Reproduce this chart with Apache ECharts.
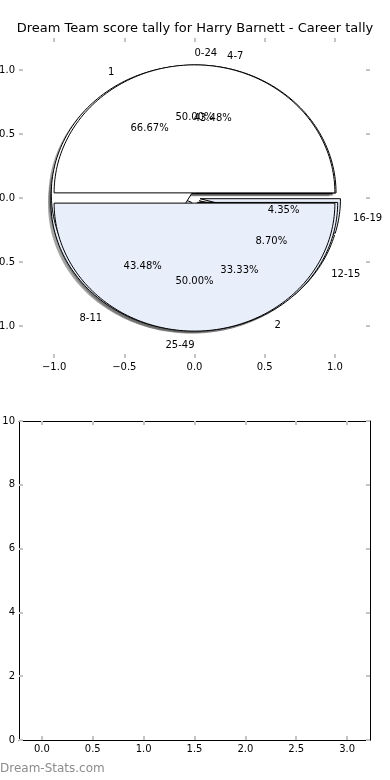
<!DOCTYPE html>
<html><head><meta charset="utf-8">
<script src="https://cdn.jsdelivr.net/npm/echarts@6/dist/echarts.min.js"></script>
<style>html,body{margin:0;padding:0;background:#fff}#c{width:390px;height:780px}</style>
</head><body><div id="c"></div>
<script>
// ---- data ----
const chartTitle = 'Dream Team score tally for Harry Barnett - Career tally';
const pieALabels = ['1', '2'];
const pieAValues = [2, 1];
const pieBLabels = ['0-24', '25-49'];
const pieBValues = [1, 1];
const pieCLabels = ['4-7', '8-11', '12-15', '16-19'];
const pieCValues = [10, 10, 2, 1];
const pieTicks = [-1.0, -0.5, 0.0, 0.5, 1.0];
const lowerXTicks = [0, 0.5, 1, 1.5, 2, 2.5, 3];
const lowerYTicks = [0, 2, 4, 6, 8, 10];
const watermark = 'Dream-Stats.com';

// ---- styling ----
const FONT = 'DejaVu Sans';
const WEDGE_COLORS = ['#ffffff', '#e8eefa'];
const EXPLODE = 0.04, LABEL_D = 1.1, PCT_D = 0.6, SHADOW = 0.02;
const TICK = { show: true, inside: true, length: 4, lineStyle: { color: '#c4c4c4', width: 2 } };

function buildPie(labels, values) {
  const total = values.reduce((s, v) => s + v, 0);
  let a = 0;
  return values.map((v, i) => {
    const a0 = a, a1 = a + 360 * v / total; a = a1;
    const m = (a0 + a1) / 2 * Math.PI / 180;
    return { a0, a1, ox: EXPLODE * Math.cos(m), oy: EXPLODE * Math.sin(m), m,
      label: labels[i], pct: (100 * v / total).toFixed(2) + '%', color: WEDGE_COLORS[i % 2] };
  });
}
const pieA = buildPie(pieALabels, pieAValues);
const pieB = buildPie(pieBLabels, pieBValues);
const pieC = buildPie(pieCLabels, pieCValues);
const drawOrder = [pieC, pieA, pieB];
const allWedges = [].concat(...drawOrder);

function wedgeItem(w) { return [w.a0, w.a1, w.ox, w.oy]; }
function makeRender(list, dx, dy, shadow) {
  return function (params, api) {
    const w = list[params.dataIndex];
    const cx = api.value(2) + dx, cy = api.value(3) + dy;
    const a0 = api.value(0), a1 = api.value(1);
    const pts = [api.coord([cx, cy])];
    const n = Math.max(4, Math.ceil((a1 - a0) / 1.5));
    for (let k = 0; k <= n; k++) {
      const t = (a0 + (a1 - a0) * k / n) * Math.PI / 180;
      pts.push(api.coord([cx + Math.cos(t), cy + Math.sin(t)]));
    }
    return { type: 'polygon', shape: { points: pts },
      style: shadow ? { fill: 'rgba(75,75,75,0.5)', stroke: null }
                    : { fill: w.color, stroke: '#000', lineWidth: 1, lineJoin: 'miter' } };
  };
}

const textItems = [];
allWedges.forEach(w => {
  const c = Math.cos(w.m), s = Math.sin(w.m);
  textItems.push({ x: w.ox + LABEL_D * c, y: w.oy + LABEL_D * s, text: w.label, align: c > 1e-9 ? 'left' : (c < -1e-9 ? 'right' : (w.m < Math.PI ? 'left' : 'right')) });
  textItems.push({ x: w.ox + PCT_D * c, y: w.oy + PCT_D * s, text: w.pct, align: 'center' });
});

const series = [];
series.push({ type: 'custom', xAxisIndex: 0, yAxisIndex: 0, silent: true, animation: false, z: 1,
  renderItem: makeRender(allWedges, -SHADOW, -SHADOW, true), data: allWedges.map(wedgeItem) });
drawOrder.forEach((p, i) => series.push({ type: 'custom', xAxisIndex: 0, yAxisIndex: 0, silent: true, animation: false, z: 2 + i,
  renderItem: makeRender(p, 0, 0, false), data: p.map(wedgeItem) }));
series.push({ type: 'custom', xAxisIndex: 0, yAxisIndex: 0, silent: true, animation: false, z: 10,
  renderItem: function (params, api) {
    const t = textItems[params.dataIndex];
    const p = api.coord([api.value(0), api.value(1)]);
    return { type: 'text', x: p[0], y: p[1] + 1, style: { text: t.text, textAlign: t.align, textVerticalAlign: 'middle',
      font: '10px "' + FONT + '"', fill: '#000' } };
  }, data: textItems.map(t => [t.x, t.y]) });

const fmt1 = v => (v < 0 ? '\u2212' : '') + Math.abs(v).toFixed(1);
const labelStyle = (vals, f, margin) => ({ show: true, customValues: vals, formatter: f, margin: margin, fontSize: 10, fontFamily: FONT, color: '#000' });
function axis(type, grid, pos, min, max, vals, label, line) {
  return { type: 'value', gridIndex: grid, position: pos, min: min, max: max,
    axisLine: { show: line, onZero: false, lineStyle: { color: '#000', width: 1 } },
    axisTick: Object.assign({ customValues: vals }, TICK),
    axisLabel: label ? label : { show: false },
    splitLine: { show: false } };
}

const option = {
  animation: false,
  title: { text: chartTitle, left: 'center', top: 22, padding: 0,
    textStyle: { fontFamily: FONT, fontSize: 13, fontWeight: 'normal', color: '#000' } },
  grid: [
    { left: 19, top: 38, width: 351, height: 320, containLabel: false, outerBoundsMode: 'none' },
    { left: 19, top: 421, width: 351, height: 319, containLabel: false, outerBoundsMode: 'none' }
  ],
  xAxis: [
    axis('x', 0, 'bottom', -1.25, 1.25, pieTicks, labelStyle(pieTicks, fmt1, 4), false),
    axis('x', 0, 'top', -1.25, 1.25, pieTicks, null, false),
    axis('x', 1, 'bottom', -0.225, 3.225, lowerXTicks, labelStyle(lowerXTicks, fmt1, 4), true),
    axis('x', 1, 'top', -0.225, 3.225, lowerXTicks, null, true)
  ],
  yAxis: [
    axis('y', 0, 'left', -1.25, 1.25, pieTicks, labelStyle(pieTicks, fmt1, 4), false),
    axis('y', 0, 'right', -1.25, 1.25, pieTicks, null, false),
    axis('y', 1, 'left', 0, 10, lowerYTicks, labelStyle(lowerYTicks, v => String(v), 4), true),
    axis('y', 1, 'right', 0, 10, lowerYTicks, null, true)
  ],
  graphic: [{ type: 'text', left: 0, top: 763, style: { text: watermark, font: '12px "' + FONT + '"', fill: '#8c8c8c' } }],
  series: series
};
const chart = echarts.init(document.getElementById('c'), null, { renderer: 'canvas' });
chart.setOption(option);
</script></body></html>
